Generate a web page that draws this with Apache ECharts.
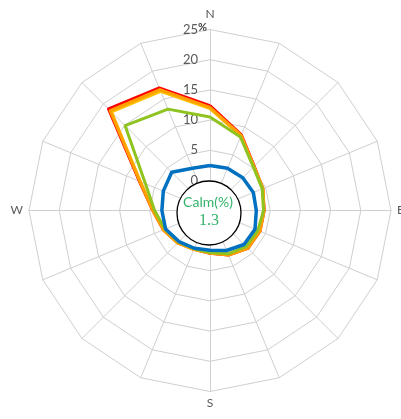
<!DOCTYPE html>
<html>
<head>
<meta charset="utf-8">
<script src="https://cdn.jsdelivr.net/npm/echarts@6/dist/echarts.min.js"></script>
<style>
html,body{margin:0;padding:0;background:#fff;}
#c{width:401px;height:419px;}
</style>
</head>
<body>
<div id="c"></div>
<script>
// Compass directions (clockwise from N)
const directions = ['N','NNE','NE','ENE','E','ESE','SE','SSE','S','SSW','SW','WSW','W','WNW','NW','NNW'];
const shownNames = ['N','E','S','W'];
const radialTicks = [0,5,10,15,20,25];
const calmValue = 1.3;

// Frequencies (%) per direction, compass order
const redSeries    = [12.4, 8.6, 5.4, 4.5, 4.0, 4.0, 3.9, 3.0, 2.1, 2.0, 2.6, 3.4, 4.5, 7.7, 18.8, 17.0];
const orangeSeries = [12.1, 8.5, 5.3, 4.5, 4.0, 4.0, 3.9, 3.0, 2.1, 2.0, 2.6, 3.4, 4.5, 7.6, 18.4, 16.7];
const goldSeries   = [11.9, 8.4, 5.3, 4.5, 3.9, 3.9, 3.8, 2.9, 2.0, 2.0, 2.6, 3.3, 4.4, 7.5, 18.1, 16.4];
const greenSeries  = [10.5, 8.2, 5.2, 4.4, 3.9, 3.6, 3.5, 2.8, 2.0, 1.9, 2.4, 3.1, 4.2, 6.6, 14.9, 13.2];
const blueSeries   = [2.5, 2.6, 2.7, 2.8, 2.7, 3.1, 3.0, 2.2, 1.6, 1.8, 2.3, 3.0, 3.0, 3.4, 4.0, 2.6];

// radar runs counter-clockwise: reorder
const order = [0];
for (let i = directions.length - 1; i >= 1; i--) order.push(i);
const reorder = arr => order.map(i => arr[i]);

const maxV = radialTicks[radialTicks.length - 1];
const indicator = order.map((i, k) => {
  const name = directions[i];
  const ind = { name: shownNames.includes(name) ? name : '', min: 0, max: maxV };
  if (k === 0) {
    ind.axisLabel = {
      show: true,
      color: '#595959',
      fontSize: 13,
      fontFamily: 'Lato',
      margin: 12,
      formatter: v => String(v)
    };
  }
  return ind;
});

const chart = echarts.init(document.getElementById('c'), null, { renderer: 'canvas' });
const grid = '#cfcfcf';
chart.setOption({
  animation: false,
  backgroundColor: '#ffffff',
  radar: {
    center: [210, 210.5],
    radius: [30, 181],
    shape: 'polygon',
    splitNumber: radialTicks.length - 1,
    indicator: indicator,
    axisName: {
      color: '#595959',
      fontSize: 12,
      fontFamily: 'Lato',
      formatter: n => n === 'N' ? '{n|N}' : n,
      rich: { n: { color: '#595959', fontSize: 12, fontFamily: 'Lato', padding: [0,0,3,0] } }
    },
    nameGap: 6,
    axisLine: { lineStyle: { color: grid, width: 1 } },
    splitLine: { lineStyle: { color: grid, width: 1 } },
    splitArea: { show: false },
    axisTick: { show: false },
    axisLabel: { show: false }
  },
  series: [{
    type: 'radar',
    symbol: 'none',
    data: [
      { name: 'red', value: reorder(redSeries), lineStyle: { color: '#ff0000', width: 3 } },
      { name: 'gold', value: reorder(goldSeries), lineStyle: { color: '#ffc000', width: 3 } },
      { name: 'orange', value: reorder(orangeSeries), lineStyle: { color: '#ffa000', width: 3 } },
      { name: 'green', value: reorder(greenSeries), lineStyle: { color: '#8fc31f', width: 3 } },
      { name: 'blue', value: reorder(blueSeries), lineStyle: { color: '#0070c0', width: 3.5 } }
    ]
  }],
  graphic: [
    { type: 'text', left: 198, top: 22, style: { text: '%', fill: '#404040', font: 'bold 11px Lato' }, z: 10 },
    { type: 'circle', shape: { cx: 209, cy: 213, r: 32 }, style: { fill: '#ffffff', stroke: '#000000', lineWidth: 1.3 }, z: 10 },
    { type: 'text', x: 208, y: 202, style: { text: 'Calm(%)', fill: '#33b46a', font: '14px Lato', align: 'center', verticalAlign: 'middle' }, z: 11 },
    { type: 'text', x: 209, y: 221, style: { text: calmValue.toFixed(1), fill: '#33b46a', font: '16px "Liberation Serif"', align: 'center', verticalAlign: 'middle' }, z: 11 }
  ]
});
</script>
</body>
</html>
